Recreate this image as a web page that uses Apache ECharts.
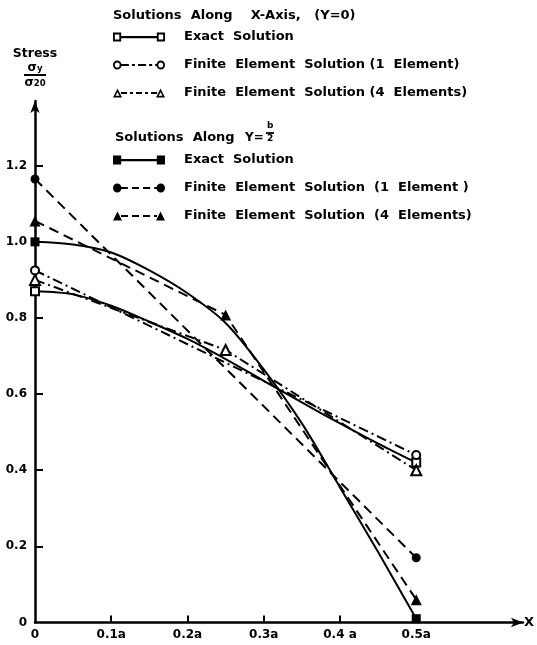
<!DOCTYPE html>
<html>
<head>
<meta charset="utf-8">
<script src="https://cdn.jsdelivr.net/npm/echarts@6/dist/echarts.min.js"></script>
<style>
html,body{margin:0;padding:0;background:#fff;}
#chart{width:537px;height:645px;}
</style>
</head>
<body>
<div id="chart"></div>
<script>
// ---- data ----
const exactX = [0, 0.05, 0.1, 0.15, 0.2, 0.25, 0.3, 0.35, 0.4, 0.45, 0.5];
const exactAlongX = [0.87, 0.862, 0.832, 0.79, 0.745, 0.692, 0.635, 0.578, 0.523, 0.47, 0.42];
const exactAlongHalfB = [1.0, 0.993, 0.972, 0.925, 0.865, 0.787, 0.665, 0.523, 0.355, 0.185, 0.01];
const fe1X = [0, 0.5];
const fe1AlongX = [0.925, 0.44];
const fe1AlongHalfB = [1.165, 0.17];
const fe4X = [0, 0.25, 0.5];
const fe4AlongX = [0.90, 0.716, 0.40];
const fe4AlongHalfB = [1.055, 0.808, 0.06];
const xTickValues = [0, 0.1, 0.2, 0.3, 0.4, 0.5];
const xTickLabels = ['0', '0.1a', '0.2a', '0.3a', '0.4 a', '0.5a'];
const yTickValues = [0, 0.2, 0.4, 0.6, 0.8, 1.0, 1.2];
const yTickLabels = ['0', '0.2', '0.4', '0.6', '0.8', '1.0', '1.2'];
const namesAlongX = ['X|Exact  Solution', 'X|Finite  Element  Solution (1  Element)', 'X|Finite  Element  Solution (4  Elements)'];
const namesAlongHalfB = ['B|Exact  Solution', 'B|Finite  Element  Solution  (1  Element )', 'B|Finite  Element  Solution  (4  Elements)'];

const FONT = 'DejaVu Sans';
const pairs = (xs, ys) => xs.map((x, i) => [x, ys[i]]);
const endsOnly = (n, size) => (v, p) => (p.dataIndex === 0 || p.dataIndex === n - 1) ? size : 0;
const DASH = [10, 6];
const DASHDOT = [10, 4, 2, 4];

// legend sample icons: line with a marker at each end (52 x 9 box)
function legendIcon(marker, open, pattern) {
  const W = 52, H = 9, r = 4.5, cy = 4.5;
  const rect = (x, y, w, h) => `M${x} ${y}h${w}v${h}h${-w}Z`;
  const hole = (x, y, w, h) => `M${x} ${y}v${h}h${w}v${-h}Z`;
  let d = '';
  const x0 = 2 * r - 1, x1 = W - 2 * r + 1;
  if (!pattern) {
    d += rect(x0, cy - 1, x1 - x0, 2);
  } else {
    let x = x0, k = 0;
    while (x < x1) {
      const len = pattern[k % pattern.length];
      if (k % 2 === 0) d += rect(x, cy - 1, Math.min(len, x1 - x), 2);
      x += len; k++;
    }
  }
  [r, W - r].forEach(cx => {
    if (marker === 'rect') {
      d += rect(cx - 4, cy - 4, 8, 8);
      if (open) d += hole(cx - 2.2, cy - 2.2, 4.4, 4.4);
    } else if (marker === 'circle') {
      d += `M${cx - 4.2} ${cy}A4.2 4.2 0 1 1 ${cx + 4.2} ${cy}A4.2 4.2 0 1 1 ${cx - 4.2} ${cy}Z`;
      if (open) d += `M${cx - 2.4} ${cy}A2.4 2.4 0 1 0 ${cx + 2.4} ${cy}A2.4 2.4 0 1 0 ${cx - 2.4} ${cy}Z`;
    } else {
      d += `M${cx} 0L${cx + 4.5} ${H}L${cx - 4.5} ${H}Z`;
      if (open) d += `M${cx} 3.8L${cx - 2} 7.3L${cx + 2} 7.3Z`;
    }
  });
  return 'path://' + d;
}

const chart = echarts.init(document.getElementById('chart'), null, {renderer: 'canvas'});
const textBold = (size) => ({fontFamily: FONT, fontWeight: 'bold', fontSize: size, color: '#000'});
const legendBase = {
  orient: 'vertical', left: 108, itemWidth: 52, itemHeight: 9, itemGap: 12,
  selectedMode: false, symbolKeepAspect: false,
  itemStyle: {color: '#000', borderWidth: 0},
  formatter: n => n.split('|')[1],
  textStyle: Object.assign(textBold(13), {lineHeight: 16, padding: [0, 0, 0, 14]})
};
chart.setOption({
  backgroundColor: '#fff',
  animation: false,
  title: [
    {text: 'Solutions  Along    X-Axis,   (Y=0)', left: 108, top: 4, textStyle: textBold(13)},
    {text: 'Solutions  Along', left: 110, top: 126, textStyle: textBold(13)},
    {text: 'Y=', left: 240, top: 127, textStyle: textBold(12)},
    {text: 'b', left: 267, top: 121, padding: 0, textStyle: textBold(9)},
    {text: '{bar| }', left: 266, top: 132, padding: 0,
     textStyle: {rich: {bar: {width: 8, height: 1.8, lineHeight: 2, backgroundColor: '#000', fontSize: 2}}}},
    {text: '2', left: 267, top: 134, padding: 0, textStyle: textBold(9)}
  ],
  legend: [
    Object.assign({}, legendBase, {top: 24, data: [
      {name: namesAlongX[0], icon: legendIcon('rect', true, null)},
      {name: namesAlongX[1], icon: legendIcon('circle', true, [8, 3, 3, 3])},
      {name: namesAlongX[2], icon: legendIcon('triangle', true, [6, 3, 3, 3])}
    ]}),
    Object.assign({}, legendBase, {top: 147, data: [
      {name: namesAlongHalfB[0], icon: legendIcon('rect', false, null)},
      {name: namesAlongHalfB[1], icon: legendIcon('circle', false, [7, 4])},
      {name: namesAlongHalfB[2], icon: legendIcon('triangle', false, [7, 4])}
    ]})
  ],
  grid: {left: 35, right: 7, top: 101, bottom: 22.5, containLabel: false},
  xAxis: {
    type: 'value', min: 0, max: 0.64, interval: 0.1,
    name: 'X', nameLocation: 'end', nameGap: 1,
    nameTextStyle: Object.assign(textBold(13), {verticalAlign: 'middle'}),
    splitLine: {show: false},
    axisLine: {show: true, lineStyle: {color: '#000', width: 2.5}, symbol: ['none', 'arrow'], symbolSize: [7, 12]},
    axisTick: {show: true, inside: true, length: 7, lineStyle: {color: '#000', width: 2}, customValues: xTickValues.slice(1)},
    axisLabel: Object.assign(textBold(12), {customValues: xTickValues, margin: 6,
      formatter: v => { const i = xTickValues.findIndex(t => Math.abs(t - v) < 1e-9); return i >= 0 ? xTickLabels[i] : ''; }})
  },
  yAxis: {
    type: 'value', min: 0, max: 1.37, interval: 0.2,
    name: '{s|Stress}\n{n|σ}{sb|y}\n{bar| }\n{n|σ}{sb|20}',
    nameLocation: 'end', nameGap: 13,
    nameTextStyle: {align: 'center', rich: {
      s: Object.assign(textBold(12.5), {lineHeight: 16, align: 'center'}),
      n: Object.assign(textBold(12), {lineHeight: 11}),
      sb: Object.assign(textBold(8.5), {lineHeight: 11, verticalAlign: 'bottom'}),
      bar: {width: 22, height: 2, lineHeight: 4, backgroundColor: '#000', fontSize: 2, align: 'center'}
    }},
    splitLine: {show: false},
    axisLine: {show: true, lineStyle: {color: '#000', width: 2.5}, symbol: ['none', 'arrow'], symbolSize: [7, 12]},
    axisTick: {show: true, inside: true, length: 8, lineStyle: {color: '#000', width: 2}, customValues: yTickValues.slice(1)},
    axisLabel: Object.assign(textBold(12), {customValues: yTickValues, margin: 8,
      formatter: v => { const i = yTickValues.findIndex(t => Math.abs(t - v) < 1e-9); return i >= 0 ? yTickLabels[i] : ''; }})
  },
  series: [
    {name: namesAlongX[0], type: 'line', smooth: 0.3, data: pairs(exactX, exactAlongX),
     symbol: 'emptyRect', symbolSize: endsOnly(exactX.length, 8), showAllSymbol: true,
     lineStyle: {color: '#000', width: 2}, itemStyle: {color: '#000', borderWidth: 1.8}},
    {name: namesAlongX[1], type: 'line', data: pairs(fe1X, fe1AlongX),
     symbol: 'emptyCircle', symbolSize: 8,
     lineStyle: {color: '#000', width: 2, type: DASHDOT}, itemStyle: {color: '#000', borderWidth: 1.8}},
    {name: namesAlongX[2], type: 'line', data: pairs(fe4X, fe4AlongX),
     symbol: 'emptyTriangle', symbolSize: 10,
     lineStyle: {color: '#000', width: 2, type: DASHDOT}, itemStyle: {color: '#000', borderWidth: 1.8}},
    {name: namesAlongHalfB[0], type: 'line', smooth: 0.3, data: pairs(exactX, exactAlongHalfB),
     symbol: 'rect', symbolSize: endsOnly(exactX.length, 9), showAllSymbol: true,
     lineStyle: {color: '#000', width: 2}, itemStyle: {color: '#000'}},
    {name: namesAlongHalfB[1], type: 'line', data: pairs(fe1X, fe1AlongHalfB),
     symbol: 'circle', symbolSize: 9,
     lineStyle: {color: '#000', width: 2, type: DASH}, itemStyle: {color: '#000'}},
    {name: namesAlongHalfB[2], type: 'line', data: pairs(fe4X, fe4AlongHalfB),
     symbol: 'triangle', symbolSize: 11,
     lineStyle: {color: '#000', width: 2, type: DASH}, itemStyle: {color: '#000'}}
  ]
});
</script>
</body>
</html>
